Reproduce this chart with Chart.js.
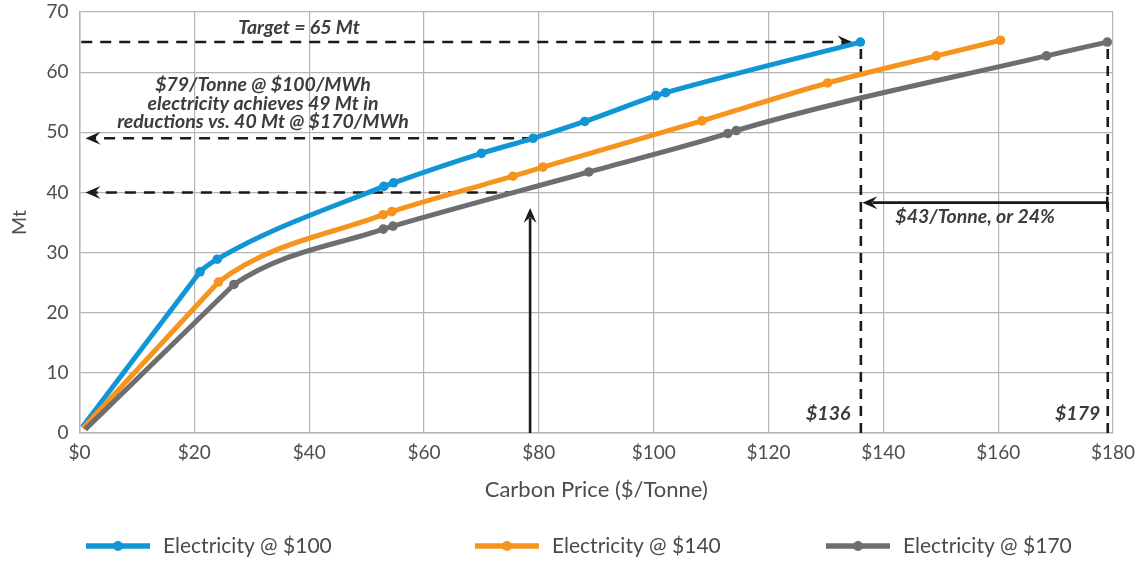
<!DOCTYPE html>
<html>
<head>
<meta charset="utf-8">
<script src="https://cdn.jsdelivr.net/npm/chart.js@4.4.1/dist/chart.umd.min.js"></script>
<style>
  html, body { margin: 0; padding: 0; background: #ffffff; }
  #wrap { width: 1141px; height: 565px; position: relative; }
</style>
</head>
<body>
<div id="wrap"><canvas id="chart" width="1141" height="565"></canvas></div>
<script>
// Abatement curves: carbon price ($/tonne) vs. reductions (Mt) for three electricity prices
const seriesNames = ['Electricity @ $100', 'Electricity @ $140', 'Electricity @ $170'];
const seriesColors = ['#1196d5', '#f7941e', '#6d6e71'];

const priceElec100 = [0.5, 21, 24, 53, 54.7, 70, 79, 88, 100.4, 102.1, 136];
const mtElec100    = [1.0, 26.8, 28.9, 41.0, 41.6, 46.5, 49, 51.8, 56.1, 56.6, 65];

const priceElec140 = [0.6, 24.2, 52.9, 54.4, 75.5, 80.7, 108.4, 130.3, 149.2, 160.4];
const mtElec140    = [0.8, 25.1, 36.3, 36.8, 42.7, 44.2, 51.9, 58.2, 62.7, 65.3];

const priceElec170 = [1.0, 26.9, 52.9, 54.6, 88.7, 112.9, 114.4, 168.4, 179];
const mtElec170    = [0.6, 24.7, 33.9, 34.4, 43.4, 49.8, 50.3, 62.7, 65];

const xTickValues = [0, 20, 40, 60, 80, 100, 120, 140, 160, 180];
const xTickLabels = ['$0', '$20', '$40', '$60', '$80', '$100', '$120', '$140', '$160', '$180'];
const yTickValues = [0, 10, 20, 30, 40, 50, 60, 70];

// Callout values (in data units)
const targetMt = 65;
const targetPrice100 = 136;
const targetPrice170 = 179;
const compareMt = [49, 40];
const comparePriceEnd = [79, 76];
const comparePrice = 79;
const compareArrowTop = 37.4;
const gapArrowMt = 38.3;
const noteLines = ['$79/Tonne @ $100/MWh', 'electricity achieves 49 Mt in', 'reductions vs. 40 Mt @ $170/MWh'];

function toPoints(xs, ys) { return xs.map((x, i) => ({ x: x, y: ys[i] })); }

const seriesData = [
  toPoints(priceElec100, mtElec100),
  toPoints(priceElec140, mtElec140),
  toPoints(priceElec170, mtElec170)
];

const noteFont = 'italic bold 19.5px Lato, "DejaVu Sans", sans-serif';
const noteColor = '#3c3c3c';
const inkColor = '#1a1a1a';
const textFamily = 'Lato, "DejaVu Sans", sans-serif';

function arrowHead(ctx, tipX, tipY, angle, len, halfW) {
  ctx.save();
  ctx.translate(tipX, tipY);
  ctx.rotate(angle);
  ctx.beginPath();
  ctx.moveTo(0, 0);
  ctx.lineTo(-len, -halfW);
  ctx.lineTo(-len * 0.62, 0);
  ctx.lineTo(-len, halfW);
  ctx.closePath();
  ctx.fillStyle = inkColor;
  ctx.fill();
  ctx.restore();
}

function strokeLine(ctx, x1, y1, x2, y2, dash) {
  ctx.save();
  ctx.strokeStyle = inkColor;
  ctx.lineWidth = 2.6;
  ctx.setLineDash(dash || []);
  ctx.beginPath();
  ctx.moveTo(x1, y1);
  ctx.lineTo(x2, y2);
  ctx.stroke();
  ctx.restore();
}

const calloutPlugin = {
  id: 'callouts',
  beforeDatasetsDraw(chart) {
    const ctx = chart.ctx;
    const xs = chart.scales.x, ys = chart.scales.y;
    const x0 = xs.getPixelForValue(0.3);
    // target line with arrow to the $100 curve
    const yT = ys.getPixelForValue(targetMt);
    const tipT = xs.getPixelForValue(targetPrice100) - 8;
    strokeLine(ctx, x0, yT, tipT - 8, yT, [11, 8]);
    arrowHead(ctx, tipT, yT, 0, 15, 6.5);
    // comparison lines pointing back to the Mt axis
    compareMt.forEach((mt, i) => {
      const y = ys.getPixelForValue(mt);
      const xe = xs.getPixelForValue(comparePriceEnd[i]);
      const tip = xs.getPixelForValue(0) + 6;
      strokeLine(ctx, xe, y, tip + 8, y, [11, 8]);
      arrowHead(ctx, tip, y, Math.PI, 15, 6.5);
    });
    // vertical arrow at the compared carbon price
    const xc = xs.getPixelForValue(comparePrice) - 3;
    const yTop = ys.getPixelForValue(compareArrowTop);
    strokeLine(ctx, xc, ys.getPixelForValue(0), xc, yTop + 10);
    arrowHead(ctx, xc, yTop, -Math.PI / 2, 15, 6.5);
    // vertical drop lines at both target prices
    [targetPrice100, targetPrice170].forEach(p => {
      const x = xs.getPixelForValue(p) + 0.5;
      strokeLine(ctx, x, ys.getPixelForValue(targetMt) + 7, x, ys.getPixelForValue(0), [10, 7]);
    });
    // price gap arrow
    const yG = ys.getPixelForValue(gapArrowMt);
    const xl = xs.getPixelForValue(targetPrice100) + 2;
    const xr = xs.getPixelForValue(targetPrice170);
    strokeLine(ctx, xr, yG, xl + 10, yG);
    arrowHead(ctx, xl, yG, Math.PI, 15, 6.5);
    strokeLine(ctx, xr, yG - 6, xr, yG + 6);
  },
  afterDatasetsDraw(chart) {
    const ctx = chart.ctx;
    const xs = chart.scales.x, ys = chart.scales.y;
    ctx.save();
    ctx.font = noteFont;
    ctx.fillStyle = noteColor;
    ctx.textBaseline = 'middle';
    ctx.textAlign = 'center';
    ctx.fillText('Target = 65 Mt', 299, ys.getPixelForValue(targetMt) - 14);
    noteLines.forEach((t, i) => ctx.fillText(t, 263, 85 + i * 18.5));
    ctx.textAlign = 'left';
    ctx.fillText('$43/Tonne, or 24%', xs.getPixelForValue(targetPrice100) + 35, ys.getPixelForValue(gapArrowMt) + 14);
    ctx.textAlign = 'right';
    const yL = ys.getPixelForValue(0) - 19;
    ctx.fillText('$136', xs.getPixelForValue(targetPrice100) - 10, yL);
    ctx.fillText('$179', xs.getPixelForValue(targetPrice170) - 7, yL);
    ctx.restore();
  },
  afterDraw(chart) {
    // legend row: line sample with a marker, then the series name
    const ctx = chart.ctx;
    const starts = [86, 475, 826];
    const yMid = 546;
    ctx.save();
    seriesNames.forEach((name, i) => {
      const x = starts[i];
      ctx.strokeStyle = seriesColors[i];
      ctx.lineWidth = 5.5;
      ctx.beginPath();
      ctx.moveTo(x, yMid);
      ctx.lineTo(x + 64, yMid);
      ctx.stroke();
      ctx.fillStyle = seriesColors[i];
      ctx.beginPath();
      ctx.arc(x + 32, yMid, 5, 0, Math.PI * 2);
      ctx.fill();
      ctx.fillStyle = '#4a4a4a';
      ctx.font = '21px ' + textFamily;
      ctx.textBaseline = 'middle';
      ctx.textAlign = 'left';
      ctx.fillText(name, x + 77, yMid);
    });
    ctx.restore();
  }
};

const tickFont = { family: textFamily, size: 19 };
const gridColor = '#b5b5b5';

// main curves (smoothed); the first, straight run of each curve is its own dataset
const curveSets = seriesNames.map((name, i) => ({
  label: name,
  data: seriesData[i],
  order: 2 - i,
  borderColor: seriesColors[i],
  backgroundColor: seriesColors[i],
  borderWidth: 5,
  cubicInterpolationMode: 'monotone',
  segment: { borderColor: c => (c.p0DataIndex === 0 ? 'rgba(0,0,0,0)' : seriesColors[i]) },
  pointRadius: c => (c.dataIndex === 0 ? 0 : 4.8),
  pointBorderWidth: 0,
  pointHoverRadius: 5,
  fill: false
}));
const leadSets = seriesNames.map((name, i) => ({
  label: name + ' (start)',
  data: seriesData[i].slice(0, 2),
  order: 2 - i,
  borderColor: seriesColors[i],
  borderWidth: 5,
  tension: 0,
  pointRadius: 0,
  pointHoverRadius: 0,
  fill: false
}));

new Chart(document.getElementById('chart'), {
  type: 'line',
  data: { datasets: leadSets.concat(curveSets) },
  options: {
    responsive: false,
    devicePixelRatio: 1,
    animation: false,
    layout: { autoPadding: false, padding: { top: 12, right: 28, bottom: 62, left: 0 } },
    plugins: {
      legend: { display: false },
      tooltip: { enabled: false }
    },
    scales: {
      x: {
        type: 'linear',
        min: 0,
        max: 180,
        afterBuildTicks: s => { s.ticks = xTickValues.map(v => ({ value: v })); },
        afterFit: s => { s.height = 70; s.paddingLeft = 0; s.paddingRight = 0; },
        ticks: {
          callback: (v) => xTickLabels[xTickValues.indexOf(v)],
          font: tickFont,
          color: '#4d4d4d',
          padding: 8,
          maxRotation: 0
        },
        grid: { color: gridColor, lineWidth: 1.2, drawTicks: false },
        border: { color: gridColor, width: 1.5 },
        title: {
          display: true,
          text: 'Carbon Price ($/Tonne)',
          font: { family: textFamily, size: 22 },
          color: '#4d4d4d',
          padding: { top: 4, bottom: 0 }
        }
      },
      y: {
        type: 'linear',
        min: 0,
        max: 70,
        afterBuildTicks: s => { s.ticks = yTickValues.map(v => ({ value: v })); },
        afterFit: s => { s.width = 79.5; s.paddingTop = 0; s.paddingBottom = 0; },
        ticks: {
          font: tickFont,
          color: '#4d4d4d',
          padding: 11
        },
        grid: { color: gridColor, lineWidth: 1.2, drawTicks: false },
        border: { color: gridColor, width: 1.5 },
        title: {
          display: true,
          text: 'Mt',
          font: { family: textFamily, size: 19.5 },
          color: '#4d4d4d',
          padding: { top: 8, bottom: 0 }
        }
      }
    }
  },
  plugins: [calloutPlugin]
});
</script>
</body>
</html>
